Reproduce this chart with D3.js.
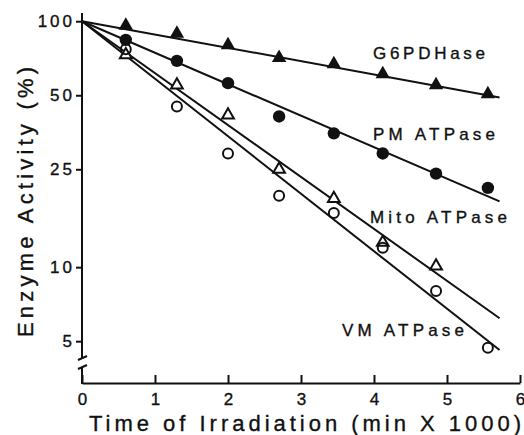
<!DOCTYPE html>
<html><head><meta charset="utf-8">
<script src="https://cdn.jsdelivr.net/npm/d3@7"></script>
<style>
body{margin:0;background:#fff;}
text{font-family:"Liberation Sans",Arial,sans-serif;fill:#111;stroke:#111;stroke-width:0.35px;}
</style></head>
<body><svg id="c" width="524" height="435"></svg>
<script>
// ---- data ----
const times = [0.6, 1.3, 2.0, 2.7, 3.45, 4.12, 4.85, 5.56];
const g6pd = [96, 89, 80, 71, 67, 61, 55, 50.5];
const pm   = [84, 69, 56, 41, 35, 29, 24, 21];
const mito = [73, 55, 41.5, 25, 19, 12.6, 10.1];
const vm   = [77, 45, 29, 19.5, 16.6, 12, 8, 4.7];
const fitEndTime = 5.72;
const fitEnd = {g6pd: 49, pm: 18.5, mito: 6.2, vm: 4.6};
const yTicks = [5, 10, 25, 50, 100];
const xTicks = [0, 1, 2, 3, 4, 5, 6];
const names = ["G6PDHase", "PM ATPase", "Mito ATPase", "VM ATPase"];

const svg = d3.select("#c");
const x = d3.scaleLinear().domain([0, 6]).range([82, 520]);
const y = d3.scaleLog().domain([3.38, 108]).range([383, 13]);

// fitted lines
const fits = [["g6pd", fitEnd.g6pd], ["pm", fitEnd.pm], ["mito", fitEnd.mito], ["vm", fitEnd.vm]];
const line = d3.line().x(d => x(d[0])).y(d => y(d[1]));
fits.forEach(f => {
  svg.append("path").attr("d", line([[0, 100], [fitEndTime, f[1]]]))
    .attr("stroke", "#111").attr("stroke-width", 2).attr("fill", "none");
});

// markers
const triFilled = d3.symbol().type(d3.symbolTriangle).size(90);
const triOpen = d3.symbol().type(d3.symbolTriangle).size(60);
svg.append("g").selectAll("path").data(g6pd).join("path")
  .attr("d", triFilled).attr("transform", (d, i) => `translate(${x(times[i])},${y(d)})`)
  .attr("fill", "#111");
svg.append("g").selectAll("circle").data(pm).join("circle")
  .attr("cx", (d, i) => x(times[i])).attr("cy", d => y(d)).attr("r", 6.2).attr("fill", "#111");
svg.append("g").selectAll("path").data(mito).join("path")
  .attr("d", triOpen).attr("transform", (d, i) => `translate(${x(times[i])},${y(d)})`)
  .attr("fill", "#fff").attr("stroke", "#111").attr("stroke-width", 2);
svg.append("g").selectAll("circle").data(vm).join("circle")
  .attr("cx", (d, i) => x(times[i])).attr("cy", d => y(d)).attr("r", 5)
  .attr("fill", "none").attr("stroke", "#111").attr("stroke-width", 2);

// axes
const yAxis = svg.append("g").attr("transform", "translate(82,0)")
  .call(d3.axisLeft(y).tickValues(yTicks).tickSize(6).tickPadding(4).tickFormat(d3.format("d")));
yAxis.select(".domain").remove();
yAxis.selectAll(".tick line").attr("stroke", "#111").attr("stroke-width", 2);
yAxis.selectAll(".tick text").style("font-size", "17px").style("letter-spacing", "3px")
  .attr("dx", "3px").attr("fill", "#111");

const xAxis = svg.append("g").attr("transform", "translate(0,383)")
  .call(d3.axisBottom(x).tickValues(xTicks).tickSizeInner(-8).tickSizeOuter(0).tickPadding(10).tickFormat(d3.format("d")));
xAxis.select(".domain").attr("stroke", "#111").attr("stroke-width", 2);
xAxis.selectAll(".tick line").attr("stroke", "#111").attr("stroke-width", 2);
xAxis.selectAll(".tick text").style("font-size", "17px").attr("fill", "#111");

// y axis line with break
svg.append("line").attr("x1", 82).attr("x2", 82).attr("y1", y(108)).attr("y2", 358)
  .attr("stroke", "#111").attr("stroke-width", 2);
svg.append("line").attr("x1", 82).attr("x2", 82).attr("y1", 367).attr("y2", 384)
  .attr("stroke", "#111").attr("stroke-width", 2);
svg.append("path").attr("d", "M78,360 L87,356 M78,369 L87,365")
  .attr("stroke", "#111").attr("stroke-width", 2).attr("fill", "none");

// series labels
const labels = [
  {t: names[0], x: 373, y: 59, w: 112},
  {t: names[1], x: 373, y: 140, w: 122},
  {t: names[2], x: 370, y: 223, w: 137},
  {t: names[3], x: 342, y: 336, w: 122}
];
svg.append("g").selectAll("text").data(labels).join("text")
  .attr("x", d => d.x).attr("y", d => d.y).text(d => d.t)
  .attr("textLength", d => d.w).attr("lengthAdjust", "spacing")
  .style("font-size", "17px");

// axis titles
svg.append("text").attr("x", 89).attr("y", 431).text("Time of Irradiation (min X 1000)")
  .attr("textLength", 432).attr("lengthAdjust", "spacing").style("font-size", "22px");
svg.append("text").attr("transform", "translate(33,337) rotate(-90)")
  .text("Enzyme Activity (%)").attr("textLength", 270).attr("lengthAdjust", "spacing")
  .style("font-size", "22px");
</script></body></html>
